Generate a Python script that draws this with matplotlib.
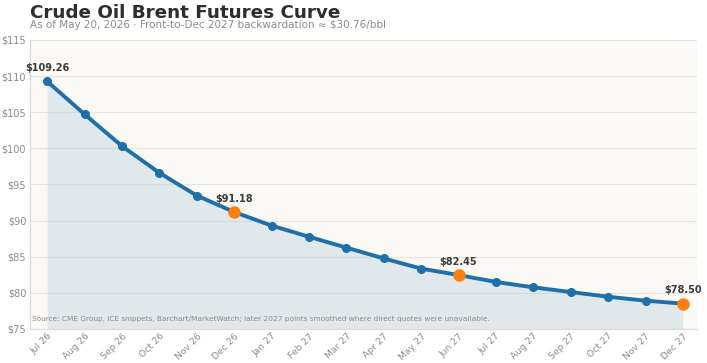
import numpy as np
import matplotlib.pyplot as plt

months = ["Jul 26", "Aug 26", "Sep 26", "Oct 26", "Nov 26", "Dec 26",
          "Jan 27", "Feb 27", "Mar 27", "Apr 27", "May 27", "Jun 27",
          "Jul 27", "Aug 27", "Sep 27", "Oct 27", "Nov 27", "Dec 27"]
prices = [109.26, 104.70, 100.30, 96.60, 93.45, 91.18,
          89.30, 87.75, 86.25, 84.75, 83.35, 82.45,
          81.50, 80.75, 80.10, 79.45, 78.90, 78.50]
labelled = [0, 5, 11, 17]
y_ticks = [75, 80, 85, 90, 95, 100, 105, 110, 115]

BLUE = "#1f6fab"
ORANGE = "#ff7f0e"


def main():
    x = np.arange(len(months))
    y = np.array(prices)

    fig = plt.figure(figsize=(7.07, 3.63), dpi=100)
    ax = fig.add_axes([0.043, 0.094, 0.943, 0.796])
    ax.set_facecolor("#fbf9f5")

    ax.fill_between(x, y, 75, color="#b9cfdc", alpha=0.4, lw=0)
    ax.plot(x, y, color=BLUE, lw=2.8, marker="o", ms=5.5, zorder=3)
    ax.plot(x[labelled[1:]], y[labelled[1:]], "o", color=ORANGE, ms=8, zorder=4)

    for i in labelled:
        ax.annotate(f"${prices[i]:.2f}", (x[i], y[i]), xytext=(0, 6),
                    textcoords="offset points", ha="center", va="bottom",
                    fontsize=7, fontweight="bold", color="#3a3a3a")

    ax.set_xlim(-0.45, 17.38)
    ax.set_ylim(75, 115)
    ax.set_xticks(x)
    ax.set_xticklabels(months, rotation=45, ha="right", rotation_mode="anchor")
    ax.set_yticks(y_ticks)
    ax.set_yticklabels([f"${v}" for v in y_ticks])
    ax.tick_params(colors="#8a8a8a", labelsize=7, length=0, pad=3)
    ax.tick_params(axis="x", labelsize=6.7, pad=2)
    ax.grid(axis="y", color="#e6e3de", lw=0.8)
    ax.set_axisbelow(True)
    for s in ["top", "right"]:
        ax.spines[s].set_visible(False)
    for s in ["left", "bottom"]:
        ax.spines[s].set_color("#d8d8d8")

    ax.text(-0.42, 76.4, "Source: CME Group, ICE snippets, Barchart/MarketWatch; "
            "later 2027 points smoothed where direct quotes were unavailable.",
            fontsize=5.3, color="#8c8c8c", va="center")

    fig.text(0.043, 0.963, "Crude Oil Brent Futures Curve", fontsize=13.2,
             fontweight="bold", color="#2e2e2e", va="center")
    fig.text(0.043, 0.930, "As of May 20, 2026 \u00b7 Front-to-Dec 2027 backwardation "
             "\u2248 $30.76/bbl", fontsize=7.5, color="#8a8a8a", va="center")

    fig.savefig("out.png", dpi=100, facecolor="white")


if __name__ == '__main__':
    main()
